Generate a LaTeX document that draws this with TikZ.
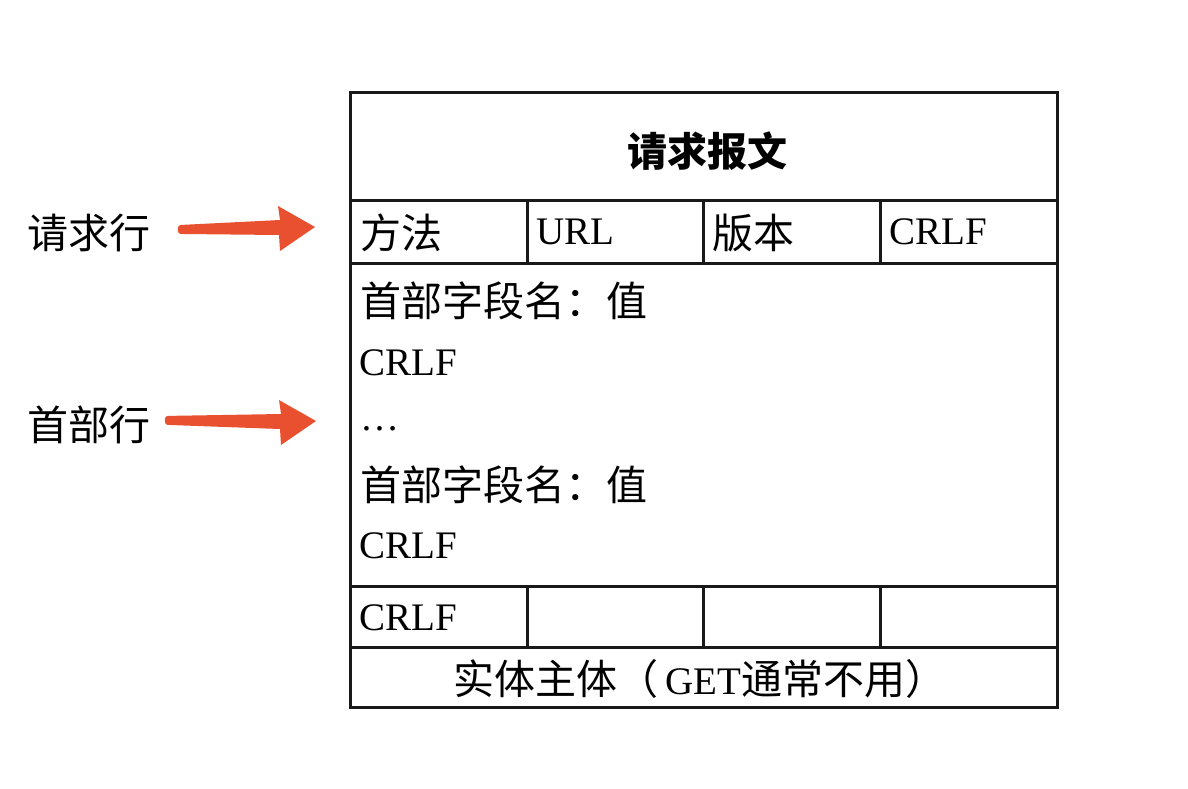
\documentclass[tikz,border=0pt]{standalone}
\usepackage{fontspec}
\setmainfont{Liberation Serif}
\newfontfamily\cjk{Noto Sans CJK SC}
\usetikzlibrary{calc}
\definecolor{arrowred}{HTML}{E9502F}
\tikzset{
  frame/.style={line width=3pt, draw=black!90},
  txt/.style={inner sep=0pt, anchor=base west, font=\fontsize{39}{45}\selectfont},
  ctxt/.style={inner sep=0pt, anchor=base, font=\fontsize{39}{45}\selectfont},
  cjktxt/.style={inner sep=0pt, anchor=base west, font=\fontsize{41}{48}\selectfont\cjk},
  lbl/.style={inner sep=0pt, anchor=base west, font=\fontsize{41}{48}\selectfont\cjk},
  fatarrow/.style={fill=arrowred}
}
\begin{document}
\begin{tikzpicture}[x=1pt,y=-1pt]
\useasboundingbox (0,0) rectangle (1188,788);
% outer frame and rows
\draw[frame] (350,92) rectangle (1057,707);
\draw[frame] (350,200) -- (1057,200);
\draw[frame] (350,263) -- (1057,263);
\draw[frame] (350,586) -- (1057,586);
\draw[frame] (350,647) -- (1057,647);
\foreach \x in {527,703,880} {
  \draw[frame] (\x,200) -- (\x,263);
  \draw[frame] (\x,586) -- (\x,647);
}
% title
\node[ctxt, font=\fontsize{40}{47}\selectfont\cjk\bfseries] (title) at (707,166) {请求报文};
% request line
\node[cjktxt] (m) at (360,248) {方法};
\node[txt] (url) at (536,244) {URL};
\node[cjktxt] (ver) at (712,248) {版本};
\node[txt] (crlf1) at (889,244) {CRLF};
% header lines
\node[cjktxt] (h1) at (360,316) {首部字段名：值};
\node[txt] (crlf2) at (359,375) {CRLF};
\node[txt] (dots) at (360,430) {…};
\node[cjktxt] (h2) at (360,500) {首部字段名：值};
\node[txt] (crlf3) at (359,558) {CRLF};
% blank line
\node[txt] (crlf4) at (359,630) {CRLF};
% body
\node[ctxt] (body) at (700,694) {{\fontsize{41}{48}\selectfont\cjk 实体主体（}\,GET{\fontsize{41}{48}\selectfont\cjk 通常不用）}};
% left labels
\node[lbl] (l1) at (27,248) {请求行};
\node[lbl] (l2) at (27,440) {首部行};
% arrows
\coordinate (a1tail) at ($(l1.east)+(30,-3)$);
\coordinate (a1tip) at (315,227);
\coordinate (a2tail) at ($(l2.east)+(17,-4)$);
\coordinate (a2tip) at (316,421);
\fill[fatarrow] ($(a1tail)+(0,-4.5)$) -- ($(a1tip)+(-35,-7)$) -- ($(a1tip)+(-37,-21)$) -- (a1tip)
  -- ($(a1tip)+(-35,24)$) -- ($(a1tip)+(-36,8)$) -- ($(a1tail)+(0,4.5)$)
  to[out=180,in=180] ($(a1tail)+(0,-4.5)$) -- cycle;
\fill[fatarrow] ($(a2tail)+(0,-4.5)$) -- ($(a2tip)+(-35,-7)$) -- ($(a2tip)+(-37,-21)$) -- (a2tip)
  -- ($(a2tip)+(-35,24)$) -- ($(a2tip)+(-36,8)$) -- ($(a2tail)+(0,4.5)$)
  to[out=180,in=180] ($(a2tail)+(0,-4.5)$) -- cycle;
\end{tikzpicture}
\end{document}
